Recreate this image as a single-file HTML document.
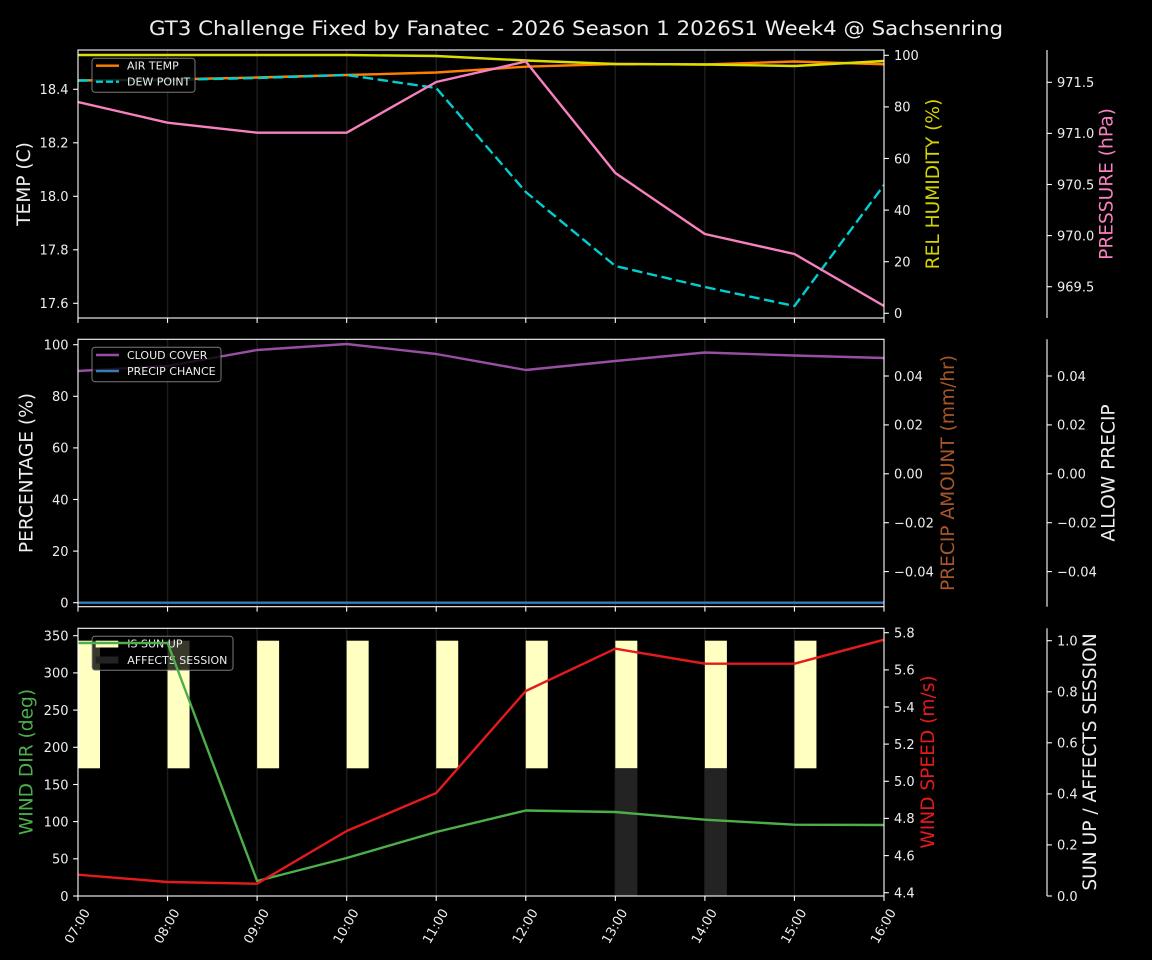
<!DOCTYPE html>
<html><head><meta charset="utf-8"><style>
html,body{margin:0;padding:0;background:#000;}
svg{display:block;}
text{font-family:"DejaVu Sans","Liberation Sans",sans-serif;fill:#eeeeee;}
.tk{font-size:13px;}
.lab{font-size:18.6px;}
.lg{font-size:11px;}
</style></head><body>
<svg width="1152" height="960" viewBox="0 0 1152 960" xmlns="http://www.w3.org/2000/svg">
<rect width="1152" height="960" fill="#000"/>
<text x="576" y="35" text-anchor="middle" style="font-size:19.5px" textLength="854" lengthAdjust="spacingAndGlyphs">GT3 Challenge Fixed by Fanatec - 2026 Season 1 2026S1 Week4 @ Sachsenring</text>

<defs>
<clipPath id="c1"><rect x="78" y="50" width="806" height="268"/></clipPath>
<clipPath id="c2"><rect x="78" y="339.3" width="806" height="267.4"/></clipPath>
<clipPath id="c3"><rect x="78" y="628.3" width="806" height="267.7"/></clipPath>
</defs>

<!-- ================= PANEL 1 ================= -->
<g stroke="#1c1c1c" stroke-width="1.5">
<line x1="167.56" y1="50" x2="167.56" y2="318"/><line x1="257.11" y1="50" x2="257.11" y2="318"/>
<line x1="346.67" y1="50" x2="346.67" y2="318"/><line x1="436.22" y1="50" x2="436.22" y2="318"/>
<line x1="525.78" y1="50" x2="525.78" y2="318"/><line x1="615.33" y1="50" x2="615.33" y2="318"/>
<line x1="704.89" y1="50" x2="704.89" y2="318"/><line x1="794.44" y1="50" x2="794.44" y2="318"/>
</g>
<g clip-path="url(#c1)" fill="none" stroke-width="2.4" stroke-linejoin="round">
<polyline stroke="#ff7f00" points="78,80.5 167.56,79.5 257.11,77.5 346.67,75 436.22,72.5 525.78,66.7 615.33,64 704.89,64.5 794.44,61.5 884,64.3"/>
<polyline stroke="#00ced1" stroke-dasharray="10.5,4.5" points="78,80.5 167.56,80 257.11,78 346.67,75 436.22,88 525.78,192 615.33,266 704.89,287 794.44,306 884,185"/>
</g>
<!-- legend 1 -->
<rect x="92" y="58.3" width="103" height="34" rx="3" fill="#000" fill-opacity="0.8" stroke="#999" stroke-opacity="0.8" stroke-width="1"/>
<line x1="96" y1="65.7" x2="119" y2="65.7" stroke="#ff7f00" stroke-width="2.4"/>
<line x1="96" y1="81.7" x2="119" y2="81.7" stroke="#00ced1" stroke-width="2.4" stroke-dasharray="7,3"/>
<text class="lg" x="127" y="69.6">AIR TEMP</text>
<text class="lg" x="127" y="85.6">DEW POINT</text>
<g clip-path="url(#c1)" fill="none" stroke-width="2.4" stroke-linejoin="round">
<polyline stroke="#dddd00" points="78,55 167.56,55 257.11,55 346.67,55 436.22,56 525.78,60.5 615.33,64 704.89,64.5 794.44,66 884,61"/>
<polyline stroke="#f781bf" points="78,102 167.56,122.7 257.11,132.7 346.67,132.7 436.22,82 525.78,61.5 615.33,173 704.89,234 794.44,254 884,306"/>
</g>
<g stroke="#fff" stroke-width="1.1" fill="none">
<rect x="78" y="50" width="806" height="268"/>
<line x1="1047" y1="50" x2="1047" y2="318"/>
</g>
<g stroke="#fff" stroke-width="1.1">
<line x1="73.1" y1="89.3" x2="78" y2="89.3"/><line x1="73.1" y1="142.8" x2="78" y2="142.8"/><line x1="73.1" y1="196.3" x2="78" y2="196.3"/><line x1="73.1" y1="249.8" x2="78" y2="249.8"/><line x1="73.1" y1="303.3" x2="78" y2="303.3"/>
<line x1="884" y1="55.3" x2="888.9" y2="55.3"/><line x1="884" y1="106.9" x2="888.9" y2="106.9"/><line x1="884" y1="158.5" x2="888.9" y2="158.5"/><line x1="884" y1="210.1" x2="888.9" y2="210.1"/><line x1="884" y1="261.7" x2="888.9" y2="261.7"/><line x1="884" y1="313.3" x2="888.9" y2="313.3"/>
<line x1="1047" y1="82.3" x2="1051.9" y2="82.3"/><line x1="1047" y1="133.4" x2="1051.9" y2="133.4"/><line x1="1047" y1="184.5" x2="1051.9" y2="184.5"/><line x1="1047" y1="235.6" x2="1051.9" y2="235.6"/><line x1="1047" y1="286.7" x2="1051.9" y2="286.7"/>
<line x1="78" y1="318" x2="78" y2="322.9"/><line x1="167.56" y1="318" x2="167.56" y2="322.9"/><line x1="257.11" y1="318" x2="257.11" y2="322.9"/><line x1="346.67" y1="318" x2="346.67" y2="322.9"/><line x1="436.22" y1="318" x2="436.22" y2="322.9"/><line x1="525.78" y1="318" x2="525.78" y2="322.9"/><line x1="615.33" y1="318" x2="615.33" y2="322.9"/><line x1="704.89" y1="318" x2="704.89" y2="322.9"/><line x1="794.44" y1="318" x2="794.44" y2="322.9"/><line x1="884" y1="318" x2="884" y2="322.9"/>
</g>
<g class="tk" text-anchor="end">
<text class="tk" x="68.5" y="94.1">18.4</text><text class="tk" x="68.5" y="147.6">18.2</text><text class="tk" x="68.5" y="201.1">18.0</text><text class="tk" x="68.5" y="254.6">17.8</text><text class="tk" x="68.5" y="308.1">17.6</text>
</g>
<text class="tk" x="894" y="60.1">100</text><text class="tk" x="894" y="111.7">80</text><text class="tk" x="894" y="163.3">60</text><text class="tk" x="894" y="214.9">40</text><text class="tk" x="894" y="266.5">20</text><text class="tk" x="894" y="318.1">0</text>
<text class="tk" x="1057" y="87.1">971.5</text><text class="tk" x="1057" y="138.2">971.0</text><text class="tk" x="1057" y="189.3">970.5</text><text class="tk" x="1057" y="240.4">970.0</text><text class="tk" x="1057" y="291.5">969.5</text>
<text class="lab" transform="translate(30.1,184) rotate(-90)" text-anchor="middle">TEMP (C)</text>
<text class="lab" transform="translate(939.1,184) rotate(-90)" text-anchor="middle" style="fill:#d4d400">REL HUMIDITY (%)</text>
<text class="lab" transform="translate(1112.3,184) rotate(-90)" text-anchor="middle" style="fill:#f781bf">PRESSURE (hPa)</text>

<!-- ================= PANEL 2 ================= -->
<g stroke="#1c1c1c" stroke-width="1.5">
<line x1="167.56" y1="339.3" x2="167.56" y2="606.7"/><line x1="257.11" y1="339.3" x2="257.11" y2="606.7"/>
<line x1="346.67" y1="339.3" x2="346.67" y2="606.7"/><line x1="436.22" y1="339.3" x2="436.22" y2="606.7"/>
<line x1="525.78" y1="339.3" x2="525.78" y2="606.7"/><line x1="615.33" y1="339.3" x2="615.33" y2="606.7"/>
<line x1="704.89" y1="339.3" x2="704.89" y2="606.7"/><line x1="794.44" y1="339.3" x2="794.44" y2="606.7"/>
</g>
<g clip-path="url(#c2)" fill="none" stroke-width="2.4" stroke-linejoin="round">
<polyline stroke="#984ea3" points="78,371 167.56,366 257.11,350 346.67,344 436.22,354 525.78,370 615.33,361 704.89,352.5 794.44,355.5 884,358"/>
<polyline stroke="#377eb8" points="78,602.7 884,602.7"/>
</g>
<rect x="92" y="347.3" width="129" height="34.4" rx="3" fill="#000" fill-opacity="0.8" stroke="#999" stroke-opacity="0.8" stroke-width="1"/>
<line x1="96" y1="355" x2="119" y2="355" stroke="#984ea3" stroke-width="2.4"/>
<line x1="96" y1="371" x2="119" y2="371" stroke="#377eb8" stroke-width="2.4"/>
<text class="lg" x="127" y="358.9">CLOUD COVER</text>
<text class="lg" x="127" y="374.9">PRECIP CHANCE</text>
<g stroke="#fff" stroke-width="1.1" fill="none">
<rect x="78" y="339.3" width="806" height="267.4"/>
<line x1="1047" y1="339.3" x2="1047" y2="606.7"/>
</g>
<g stroke="#fff" stroke-width="1.1">
<line x1="73.1" y1="344.7" x2="78" y2="344.7"/><line x1="73.1" y1="396.3" x2="78" y2="396.3"/><line x1="73.1" y1="447.9" x2="78" y2="447.9"/><line x1="73.1" y1="499.5" x2="78" y2="499.5"/><line x1="73.1" y1="551.1" x2="78" y2="551.1"/><line x1="73.1" y1="602.7" x2="78" y2="602.7"/>
<line x1="884" y1="376" x2="888.9" y2="376"/><line x1="884" y1="424.9" x2="888.9" y2="424.9"/><line x1="884" y1="473.8" x2="888.9" y2="473.8"/><line x1="884" y1="522.7" x2="888.9" y2="522.7"/><line x1="884" y1="571.6" x2="888.9" y2="571.6"/>
<line x1="1047" y1="376" x2="1051.9" y2="376"/><line x1="1047" y1="424.9" x2="1051.9" y2="424.9"/><line x1="1047" y1="473.8" x2="1051.9" y2="473.8"/><line x1="1047" y1="522.7" x2="1051.9" y2="522.7"/><line x1="1047" y1="571.6" x2="1051.9" y2="571.6"/>
<line x1="78" y1="606.7" x2="78" y2="611.6"/><line x1="167.56" y1="606.7" x2="167.56" y2="611.6"/><line x1="257.11" y1="606.7" x2="257.11" y2="611.6"/><line x1="346.67" y1="606.7" x2="346.67" y2="611.6"/><line x1="436.22" y1="606.7" x2="436.22" y2="611.6"/><line x1="525.78" y1="606.7" x2="525.78" y2="611.6"/><line x1="615.33" y1="606.7" x2="615.33" y2="611.6"/><line x1="704.89" y1="606.7" x2="704.89" y2="611.6"/><line x1="794.44" y1="606.7" x2="794.44" y2="611.6"/><line x1="884" y1="606.7" x2="884" y2="611.6"/>
</g>
<g text-anchor="end">
<text class="tk" x="68.5" y="349.5">100</text><text class="tk" x="68.5" y="401.1">80</text><text class="tk" x="68.5" y="452.7">60</text><text class="tk" x="68.5" y="504.3">40</text><text class="tk" x="68.5" y="555.9">20</text><text class="tk" x="68.5" y="607.5">0</text>
</g>
<text class="tk" x="894" y="380.8">0.04</text><text class="tk" x="894" y="429.7">0.02</text><text class="tk" x="894" y="478.6">0.00</text><text class="tk" x="894" y="527.5">−0.02</text><text class="tk" x="894" y="576.4">−0.04</text>
<text class="tk" x="1057" y="380.8">0.04</text><text class="tk" x="1057" y="429.7">0.02</text><text class="tk" x="1057" y="478.6">0.00</text><text class="tk" x="1057" y="527.5">−0.02</text><text class="tk" x="1057" y="576.4">−0.04</text>
<text class="lab" transform="translate(32.4,473) rotate(-90)" text-anchor="middle">PERCENTAGE (%)</text>
<text class="lab" transform="translate(954.1,473) rotate(-90)" text-anchor="middle" style="fill:#a65628">PRECIP AMOUNT (mm/hr)</text>
<text class="lab" transform="translate(1114.3,473) rotate(-90)" text-anchor="middle">ALLOW PRECIP</text>

<!-- ================= PANEL 3 ================= -->
<g stroke="#1c1c1c" stroke-width="1.5">
<line x1="167.56" y1="628.3" x2="167.56" y2="896"/><line x1="257.11" y1="628.3" x2="257.11" y2="896"/>
<line x1="346.67" y1="628.3" x2="346.67" y2="896"/><line x1="436.22" y1="628.3" x2="436.22" y2="896"/>
<line x1="525.78" y1="628.3" x2="525.78" y2="896"/><line x1="615.33" y1="628.3" x2="615.33" y2="896"/>
<line x1="704.89" y1="628.3" x2="704.89" y2="896"/><line x1="794.44" y1="628.3" x2="794.44" y2="896"/>
</g>
<g fill="#ffffc2">
<rect x="78" y="640.7" width="22" height="127.6"/><rect x="167.56" y="640.7" width="22" height="127.6"/><rect x="257.11" y="640.7" width="22" height="127.6"/>
<rect x="346.67" y="640.7" width="22" height="127.6"/><rect x="436.22" y="640.7" width="22" height="127.6"/><rect x="525.78" y="640.7" width="22" height="127.6"/>
<rect x="615.33" y="640.7" width="22" height="127.6"/><rect x="704.89" y="640.7" width="22" height="127.6"/><rect x="794.44" y="640.7" width="22" height="127.6"/>
</g>
<g fill="#232323">
<rect x="615.33" y="768.3" width="22" height="127.7"/><rect x="704.89" y="768.3" width="22" height="127.7"/>
</g>
<rect x="92" y="636.3" width="141" height="34" rx="3" fill="#000" fill-opacity="0.78" stroke="#999" stroke-opacity="0.8" stroke-width="1"/>
<rect x="95.7" y="640.7" width="22.6" height="6.8" fill="#ffffc2"/>
<rect x="95.7" y="656.5" width="22.6" height="7" fill="#232323"/>
<text class="lg" x="127.3" y="647.6">IS SUN UP</text>
<text class="lg" x="127.3" y="663.9">AFFECTS SESSION</text>
<g clip-path="url(#c3)" fill="none" stroke-width="2.4" stroke-linejoin="round">
<polyline stroke="#4daf4a" points="78,643 167.56,643 257.11,881 346.67,858 436.22,832 525.78,810.5 615.33,812 704.89,819.7 794.44,824.7 884,825"/>
<polyline stroke="#e41a1c" points="78,874.7 167.56,882 257.11,883.7 346.67,831 436.22,793 525.78,691 615.33,648.7 704.89,663.7 794.44,663.7 884,639.7"/>
</g>
<g stroke="#fff" stroke-width="1.1" fill="none">
<rect x="78" y="628.3" width="806" height="267.7"/>
<line x1="1047" y1="628.3" x2="1047" y2="896"/>
</g>
<g stroke="#fff" stroke-width="1.1">
<line x1="73.1" y1="635.7" x2="78" y2="635.7"/><line x1="73.1" y1="672.9" x2="78" y2="672.9"/><line x1="73.1" y1="710.1" x2="78" y2="710.1"/><line x1="73.1" y1="747.3" x2="78" y2="747.3"/><line x1="73.1" y1="784.5" x2="78" y2="784.5"/><line x1="73.1" y1="821.6" x2="78" y2="821.6"/><line x1="73.1" y1="858.8" x2="78" y2="858.8"/><line x1="73.1" y1="896" x2="78" y2="896"/>
<line x1="884" y1="632.7" x2="888.9" y2="632.7"/><line x1="884" y1="669.9" x2="888.9" y2="669.9"/><line x1="884" y1="707" x2="888.9" y2="707"/><line x1="884" y1="744.1" x2="888.9" y2="744.1"/><line x1="884" y1="781.3" x2="888.9" y2="781.3"/><line x1="884" y1="818.4" x2="888.9" y2="818.4"/><line x1="884" y1="855.6" x2="888.9" y2="855.6"/><line x1="884" y1="892.7" x2="888.9" y2="892.7"/>
<line x1="1047" y1="640.7" x2="1051.9" y2="640.7"/><line x1="1047" y1="691.8" x2="1051.9" y2="691.8"/><line x1="1047" y1="742.8" x2="1051.9" y2="742.8"/><line x1="1047" y1="793.9" x2="1051.9" y2="793.9"/><line x1="1047" y1="844.9" x2="1051.9" y2="844.9"/><line x1="1047" y1="896" x2="1051.9" y2="896"/>
<line x1="78" y1="896" x2="78" y2="900.9"/><line x1="167.56" y1="896" x2="167.56" y2="900.9"/><line x1="257.11" y1="896" x2="257.11" y2="900.9"/><line x1="346.67" y1="896" x2="346.67" y2="900.9"/><line x1="436.22" y1="896" x2="436.22" y2="900.9"/><line x1="525.78" y1="896" x2="525.78" y2="900.9"/><line x1="615.33" y1="896" x2="615.33" y2="900.9"/><line x1="704.89" y1="896" x2="704.89" y2="900.9"/><line x1="794.44" y1="896" x2="794.44" y2="900.9"/><line x1="884" y1="896" x2="884" y2="900.9"/>
</g>
<g text-anchor="end">
<text class="tk" x="68.5" y="640.5">350</text><text class="tk" x="68.5" y="677.7">300</text><text class="tk" x="68.5" y="714.9">250</text><text class="tk" x="68.5" y="752.1">200</text><text class="tk" x="68.5" y="789.3">150</text><text class="tk" x="68.5" y="826.4">100</text><text class="tk" x="68.5" y="863.6">50</text><text class="tk" x="68.5" y="900.8">0</text>
</g>
<text class="tk" x="894" y="637.5">5.8</text><text class="tk" x="894" y="674.7">5.6</text><text class="tk" x="894" y="711.8">5.4</text><text class="tk" x="894" y="748.9">5.2</text><text class="tk" x="894" y="786.1">5.0</text><text class="tk" x="894" y="823.2">4.8</text><text class="tk" x="894" y="860.4">4.6</text><text class="tk" x="894" y="897.5">4.4</text>
<text class="tk" x="1057" y="645.5">1.0</text><text class="tk" x="1057" y="696.6">0.8</text><text class="tk" x="1057" y="747.6">0.6</text><text class="tk" x="1057" y="798.7">0.4</text><text class="tk" x="1057" y="849.7">0.2</text><text class="tk" x="1057" y="900.8">0.0</text>
<text class="lab" transform="translate(32.4,762) rotate(-90)" text-anchor="middle" style="fill:#4daf4a">WIND DIR (deg)</text>
<text class="lab" transform="translate(934.1,762) rotate(-90)" text-anchor="middle" style="fill:#e41a1c">WIND SPEED (m/s)</text>
<text class="lab" transform="translate(1095.8,762) rotate(-90)" text-anchor="middle">SUN UP / AFFECTS SESSION</text>

<!-- x tick labels -->
<g text-anchor="middle">
<text class="tk" transform="translate(77,926) rotate(-60)" y="4.7">07:00</text>
<text class="tk" transform="translate(166.56,926) rotate(-60)" y="4.7">08:00</text>
<text class="tk" transform="translate(256.11,926) rotate(-60)" y="4.7">09:00</text>
<text class="tk" transform="translate(345.67,926) rotate(-60)" y="4.7">10:00</text>
<text class="tk" transform="translate(435.22,926) rotate(-60)" y="4.7">11:00</text>
<text class="tk" transform="translate(524.78,926) rotate(-60)" y="4.7">12:00</text>
<text class="tk" transform="translate(614.33,926) rotate(-60)" y="4.7">13:00</text>
<text class="tk" transform="translate(703.89,926) rotate(-60)" y="4.7">14:00</text>
<text class="tk" transform="translate(793.44,926) rotate(-60)" y="4.7">15:00</text>
<text class="tk" transform="translate(883,926) rotate(-60)" y="4.7">16:00</text>
</g>
</svg>
</body></html>
